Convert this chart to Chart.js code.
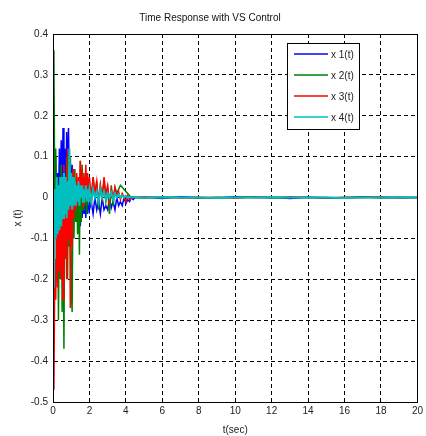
<!DOCTYPE html>
<html>
<head>
<meta charset="utf-8">
<script src="https://cdn.jsdelivr.net/npm/chart.js@4"></script>
<style>
  html, body { margin: 0; padding: 0; background: #fff; }
  #wrap { width: 426px; height: 436px; }
</style>
</head>
<body>
<div id="wrap"><canvas id="responseChart"></canvas></div>
<script>
// Time axis (sec)
const timeSec = [
  0, 0.05, 0.1, 0.15, 0.2, 0.25, 0.3, 0.35, 0.4, 0.45, 0.5, 0.55, 0.6, 0.65, 0.7, 0.75, 0.8, 0.85, 0.9, 0.95,
  1.0, 1.05, 1.1, 1.15, 1.2, 1.25, 1.3, 1.35, 1.4, 1.45, 1.5, 1.55, 1.6, 1.65, 1.7, 1.75, 1.8, 1.85, 1.9, 1.95, 2.0,
  2.1, 2.2, 2.3, 2.4, 2.5, 2.6, 2.7, 2.8, 2.9, 3.0, 3.1, 3.2, 3.3, 3.4, 3.5, 3.6, 3.7, 3.8, 3.9, 4.0, 4.1, 4.2, 4.3, 4.4, 4.5,
  5, 6, 7, 8, 9, 10, 11, 12, 13, 14, 15, 16, 17, 18, 19, 20
];

const x1 = [
  0, 0.08, -0.04, 0.1, -0.05, 0.06, -0.03, 0.12, 0.0, 0.14, 0.02, 0.17, 0.03, 0.12, -0.02, 0.16, 0.04, 0.17, 0.01, 0.1,
  -0.03, 0.08, -0.04, 0.06, -0.05, 0.04, -0.06, 0.03, -0.05, 0.02, -0.07, 0.01, -0.05, 0.02, -0.04, 0.0, -0.05, 0.01, -0.04, 0.0, -0.03,
  -0.01, -0.04, 0.0, -0.03, -0.01, -0.04, 0.0, -0.03, -0.02, -0.03, 0.0, -0.025, -0.01, -0.03, 0.0, -0.02, -0.01, -0.02, 0.0, -0.015, -0.005, -0.01, 0.0, -0.005, 0.0,
  0.001, -0.002, 0.002, 0, -0.001, 0.002, 0, 0.001, -0.002, 0.001, 0, -0.001, 0.002, 0, 0.001, 0
];

const x2 = [
  0.17, 0.36, -0.05, 0.12, -0.15, 0.05, -0.3, 0.02, -0.2, 0.08, -0.28, 0.0, -0.37, 0.05, -0.15, 0.1, -0.2, 0.06, -0.12, 0.1,
  -0.22, -0.28, 0.02, -0.1, 0.07, -0.06, 0.03, -0.09, 0.05, -0.14, 0.09, -0.06, 0.08, -0.03, 0.06, -0.02, 0.05, -0.04, 0.04, 0.0, 0.03,
  -0.02, 0.05, 0.0, 0.04, -0.03, 0.03, 0.0, 0.04, -0.01, 0.02, -0.04, 0.03, -0.02, 0.025, 0.01, 0.02, 0.03, 0.025, 0.02, 0.015, 0.01, 0.005, 0.0, 0.002, 0.0,
  -0.001, 0.002, 0, -0.002, 0.001, 0, 0.002, -0.001, 0, 0.001, -0.002, 0, 0.001, -0.001, 0, 0
];

const x3 = [
  0, -0.47, -0.15, -0.25, -0.05, -0.22, 0.02, -0.18, 0.05, -0.2, -0.03, -0.25, 0.08, -0.15, 0.02, -0.2, 0.12, -0.1, 0.1, -0.27,
  0.05, -0.12, 0.07, -0.05, 0.04, -0.03, 0.06, -0.02, 0.05, 0.01, 0.09, 0.0, 0.07, -0.02, 0.05, 0.0, 0.08, 0.01, 0.06, -0.01, 0.05,
  0.0, 0.05, 0.01, 0.04, -0.01, 0.03, 0.0, 0.05, 0.01, 0.03, -0.01, 0.02, 0.0, 0.025, 0.005, 0.015, -0.005, 0.01, 0.0, -0.01, 0.005, -0.005, 0.0, 0.002, 0.0,
  0.002, 0, -0.001, 0.001, 0, -0.002, 0.001, 0, 0.002, 0, -0.001, 0.001, 0, 0.002, -0.001, 0
];

const x4 = [
  0, -0.22, 0.02, -0.1, 0.05, -0.09, 0.03, -0.08, 0.05, -0.07, 0.05, -0.05, 0.06, -0.04, 0.05, -0.05, 0.04, -0.03, 0.12, -0.02,
  0.06, -0.03, 0.05, -0.02, 0.04, -0.02, 0.03, -0.01, 0.04, -0.02, 0.03, 0.0, 0.03, -0.01, 0.02, 0.0, 0.03, -0.01, 0.02, 0.0, 0.02,
  -0.01, 0.02, 0.0, 0.015, -0.01, 0.02, 0.0, 0.015, -0.005, 0.01, 0.0, 0.012, -0.005, 0.01, 0.0, 0.008, 0.0, 0.005, 0.0, 0.004, 0.0, 0.002, 0.0, 0.001, 0.0,
  0, 0.001, 0, 0, -0.001, 0, 0, 0.001, 0, 0, 0, -0.001, 0, 0, 0.001, 0
];

const seriesLabels = ['x 1(t)', 'x 2(t)', 'x 3(t)', 'x 4(t)'];
const seriesColors = ['#0000ff', '#008000', '#ff0000', '#00bfbf'];

const xTicks = [0, 2, 4, 6, 8, 10, 12, 14, 16, 18, 20];
const yTicks = [-0.5, -0.4, -0.3, -0.2, -0.1, 0, 0.1, 0.2, 0.3, 0.4];

const toPoints = (ys) => timeSec.map((t, i) => ({ x: t, y: ys[i] }));

// box round the plot and legend inside it
const framePlugin = {
  id: 'frame',
  afterDraw(chart) {
    const ctx = chart.ctx;
    const a = chart.chartArea;
    ctx.save();
    ctx.strokeStyle = '#000';
    ctx.lineWidth = 1;
    ctx.strokeRect(Math.round(a.left) + 0.5, Math.round(a.top) + 0.5,
      Math.round(a.right - a.left), Math.round(a.bottom - a.top));

    // legend
    const bx = 287.5, by = 43.5, bw = 72, bh = 86;
    ctx.fillStyle = '#fff';
    ctx.fillRect(bx, by, bw, bh);
    ctx.strokeRect(bx, by, bw, bh);
    ctx.font = '10px "Liberation Sans", Arial, sans-serif';
    ctx.textBaseline = 'middle';
    seriesLabels.forEach((lbl, i) => {
      const y = 54 + i * 21;
      ctx.strokeStyle = seriesColors[i];
      ctx.lineWidth = 1.5;
      ctx.beginPath();
      ctx.moveTo(294, y);
      ctx.lineTo(328, y);
      ctx.stroke();
      ctx.fillStyle = '#222';
      ctx.fillText(lbl, 331, y + 1);
    });
    ctx.restore();
  }
};

const fontFamily = '"Liberation Sans", Arial, sans-serif';

new Chart(document.getElementById('responseChart'), {
  type: 'line',
  data: {
    datasets: [x1, x2, x3, x4].map((ys, i) => ({
      label: seriesLabels[i],
      data: toPoints(ys),
      borderColor: seriesColors[i],
      borderWidth: i === 3 ? 2 : 1.5,
      pointRadius: 0,
      tension: 0,
      order: 4 - i
    }))
  },
  options: {
    responsive: true,
    maintainAspectRatio: false,
    animation: false,
    layout: { padding: { left: 0, right: 6, top: 0, bottom: 0 } },
    plugins: {
      legend: { display: false },
      tooltip: { enabled: false },
      title: {
        display: true,
        text: 'Time Response with VS Control',
        color: '#111',
        font: { family: fontFamily, size: 10, weight: 'normal' },
        padding: { top: 12, bottom: 10 }
      }
    },
    scales: {
      x: {
        type: 'linear',
        min: 0,
        max: 20,
        afterFit: (scale) => { scale.height = 34; },
        afterBuildTicks: (scale) => { scale.ticks = xTicks.map(v => ({ value: v })); },
        ticks: {
          color: '#222',
          font: { family: fontFamily, size: 10 },
          padding: 3,
          maxRotation: 0,
          callback: (v) => String(v)
        },
        grid: { color: '#000', lineWidth: 1, drawTicks: false },
        border: { display: true, color: '#000', width: 1, dash: [4, 3] },
        title: {
          display: true,
          text: 't(sec)',
          color: '#222',
          font: { family: fontFamily, size: 10 },
          padding: { top: 0, bottom: 0 }
        }
      },
      y: {
        type: 'linear',
        min: -0.5,
        max: 0.4,
        afterFit: (scale) => { scale.width = 53; },
        afterBuildTicks: (scale) => { scale.ticks = yTicks.map(v => ({ value: v })); },
        ticks: {
          color: '#222',
          font: { family: fontFamily, size: 10 },
          padding: 5,
          callback: (v) => String(Number(v.toFixed(1)))
        },
        grid: { color: '#000', lineWidth: 1, drawTicks: false },
        border: { display: true, color: '#000', width: 1, dash: [4, 3] },
        title: {
          display: true,
          text: 'x (t)',
          color: '#222',
          font: { family: fontFamily, size: 10 },
          padding: { top: 12, bottom: 0 }
        }
      }
    }
  },
  plugins: [framePlugin]
});
</script>
</body>
</html>
